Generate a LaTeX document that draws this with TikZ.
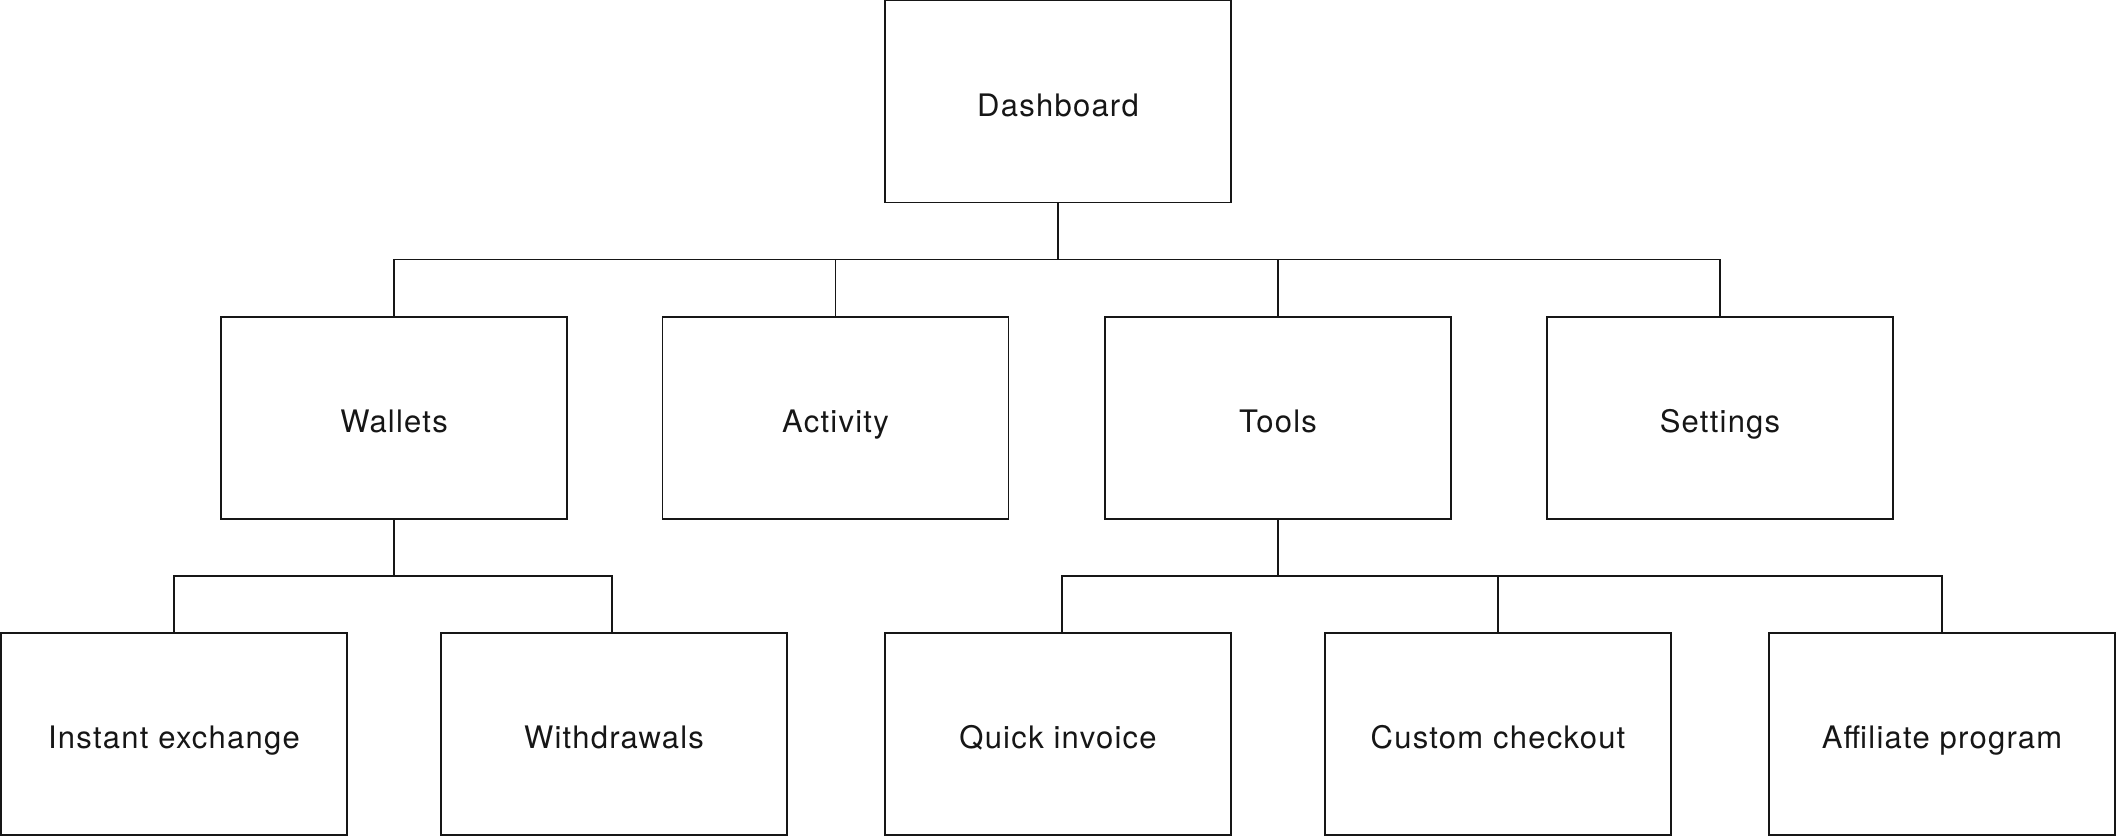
\documentclass[tikz,border=0pt]{standalone}
\usepackage{fontspec}
\setmainfont[LetterSpace=4]{TeX Gyre Heros}
\definecolor{ink}{HTML}{161616}
\begin{document}
\begin{tikzpicture}[x=0.5pt,y=-0.5pt,
  box/.style={draw=ink, line width=0.9pt, minimum width=173pt, minimum height=101pt,
    inner sep=0pt, text height=14.5pt, text depth=0pt,
    font=\fontsize{15.5}{18}\selectfont, text=ink},
  link/.style={draw=ink, line width=0.9pt}]
\useasboundingbox (0,0) rectangle (2116,836);
% level 1
\node[box] (dash) at (1058,101.5) {Dashboard};
% level 2
\node[box] (wal) at (394,418) {Wallets};
\node[box] (act) at (835.5,418) {Activity};
\node[box] (tool) at (1278,418) {Tools};
\node[box] (set) at (1720,418) {Settings};
% level 3
\node[box] (inst) at (174,733.7) {Instant exchange};
\node[box] (with) at (614,733.7) {Withdrawals};
\node[box] (quick) at (1058,733.7) {Quick invoice};
\node[box] (cust) at (1498,733.7) {Custom checkout};
\node[box] (aff) at (1942,733.7) {Affiliate program};
% bus levels
\coordinate (bA) at (0,259.5);
\coordinate (bB) at (0,575.7);
% connectors level 1 -> 2
\draw[link] (dash.south) -- (dash.south |- bA);
\draw[link] (wal.north) |- (set.north |- bA) -- (set.north);
\draw[link] (act.north) -- (act.north |- bA);
\draw[link] (tool.north) -- (tool.north |- bA);
% connectors wallets -> children
\draw[link] (wal.south) -- (wal.south |- bB);
\draw[link] (inst.north) |- ([xshift=-1pt]with.north |- bB) -- ([xshift=-1pt]with.north);
% connectors tools -> children
\draw[link] (tool.south) -- (tool.south |- bB);
\draw[link] ([xshift=2pt]quick.north) |- (aff.north |- bB) -- (aff.north);
\draw[link] (cust.north) -- (cust.north |- bB);
\end{tikzpicture}
\end{document}
